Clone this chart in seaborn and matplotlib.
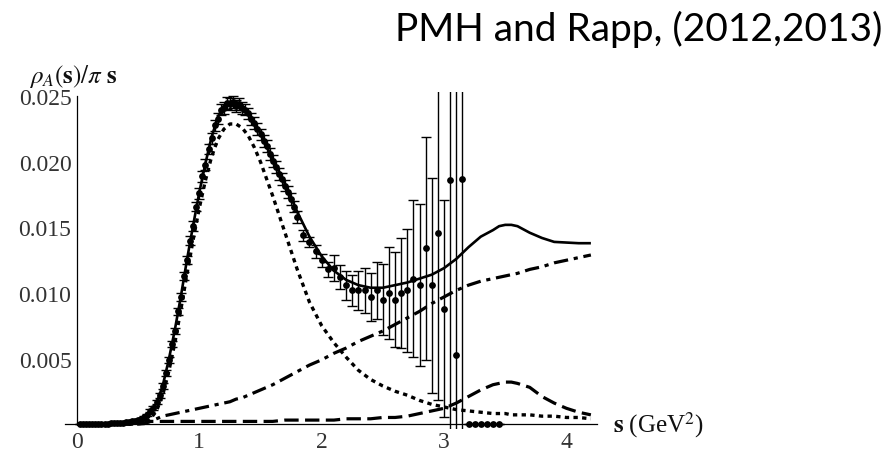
import numpy as np
import matplotlib
matplotlib.use("Agg")
import matplotlib.pyplot as plt
import seaborn as sns

# ---------------- data ----------------
model_s = [0.0, 0.1, 0.2, 0.3, 0.4, 0.5, 0.55, 0.6, 0.65, 0.7, 0.75, 0.8, 0.85, 0.9, 0.95,
           1.0, 1.05, 1.1, 1.15, 1.2, 1.25, 1.3, 1.35, 1.4, 1.45, 1.5, 1.55, 1.6, 1.7, 1.8,
           1.9, 2.0, 2.1, 2.2, 2.3, 2.4, 2.5, 2.6, 2.7, 2.8, 2.9, 3.0, 3.1, 3.2, 3.3, 3.4,
           3.45, 3.5, 3.55, 3.6, 3.7, 3.8, 3.9, 4.0, 4.1, 4.2]

total = [0.0, 0.00001, 0.00002, 0.00005, 0.00013, 0.0003, 0.0005, 0.0009, 0.0016, 0.0029,
         0.0049, 0.0072, 0.0098, 0.0126, 0.0152, 0.0177, 0.0199, 0.0219, 0.0234, 0.0243,
         0.0246, 0.0246, 0.0243, 0.0238, 0.0230, 0.0222, 0.0212, 0.0202, 0.0183, 0.0162,
         0.0143, 0.0128, 0.0117, 0.0110, 0.0106, 0.0104, 0.0104, 0.0106, 0.0108, 0.0111,
         0.0114, 0.0119, 0.0126, 0.0135, 0.0143, 0.0148, 0.0151, 0.0152, 0.0152, 0.0151,
         0.0146, 0.0142, 0.0139, 0.01385, 0.0138, 0.0138]

a1_ground = [0.0, 0.0, 0.0, 0.0, 0.0, 0.00003, 0.0001, 0.0004, 0.0010, 0.0022,
             0.0040, 0.0062, 0.0088, 0.0115, 0.0141, 0.0165, 0.0186, 0.0204, 0.0217, 0.0225,
             0.0229, 0.0229, 0.0226, 0.0220, 0.0211, 0.0200, 0.0187, 0.0174, 0.0146, 0.0118,
             0.0093, 0.0075, 0.0062, 0.0051, 0.0041, 0.0034, 0.0029, 0.0025, 0.0022, 0.0018,
             0.0015, 0.0013, 0.0011, 0.0010, 0.0009, 0.0008, 0.0008, 0.0008, 0.0007, 0.0007,
             0.0007, 0.0006, 0.0006, 0.0005, 0.0005, 0.0004]

continuum = [0.0, 0.0, 0.0, 0.0, 0.0, 0.0, 0.00003, 0.0002, 0.0004, 0.0006,
             0.0007, 0.0008, 0.0009, 0.0010, 0.0011, 0.0012, 0.0013, 0.0014, 0.0015, 0.0016,
             0.0017, 0.0019, 0.0020, 0.0022, 0.0024, 0.0026, 0.0028, 0.0030, 0.0035, 0.0040,
             0.0045, 0.0049, 0.0054, 0.0058, 0.0063, 0.0067, 0.0071, 0.0076, 0.0081, 0.0086,
             0.0092, 0.0097, 0.0102, 0.0106, 0.0109, 0.0111, 0.0112, 0.0113, 0.0114, 0.0115,
             0.0118, 0.0120, 0.0123, 0.0125, 0.0127, 0.0129]

a1_excited = [0.0, 0.0, 0.0, 0.0, 0.0, 0.0, 0.0001, 0.0002, 0.0002, 0.0002,
              0.0002, 0.0002, 0.0002, 0.0002, 0.0002, 0.0002, 0.0002, 0.0002, 0.0002, 0.0002,
              0.0002, 0.0002, 0.0002, 0.0002, 0.0002, 0.0002, 0.0002, 0.0002, 0.0003, 0.0003,
              0.0003, 0.0003, 0.0003, 0.0004, 0.0004, 0.0004, 0.0005, 0.0005, 0.0006, 0.0008,
              0.0010, 0.0012, 0.0016, 0.0021, 0.0026, 0.0030, 0.0031, 0.0032, 0.0032, 0.0031,
              0.0028, 0.0021, 0.0016, 0.0012, 0.0009, 0.0007]

data_s = [0.025, 0.05, 0.075, 0.1, 0.125, 0.15, 0.175, 0.2, 0.225, 0.25,
          0.275, 0.3, 0.325, 0.35, 0.375, 0.4, 0.425, 0.45, 0.475, 0.5,
          0.525, 0.55, 0.575, 0.6, 0.625, 0.65, 0.675, 0.7, 0.725, 0.75,
          0.775, 0.8, 0.825, 0.85, 0.875, 0.9, 0.925, 0.95, 0.975, 1.0,
          1.025, 1.05, 1.075, 1.1, 1.125, 1.15, 1.175, 1.2, 1.225, 1.25,
          1.275, 1.3, 1.325, 1.35, 1.375, 1.4, 1.425, 1.45, 1.475, 1.5,
          1.525, 1.55, 1.575, 1.6, 1.625, 1.65, 1.675, 1.7, 1.725, 1.75,
          1.775, 1.8, 1.85, 1.9, 1.95, 2.0, 2.05, 2.1, 2.15, 2.2,
          2.25, 2.3, 2.35, 2.4, 2.45, 2.5, 2.55, 2.6, 2.65, 2.7,
          2.75, 2.8, 2.85, 2.9, 2.95, 3.0, 3.05, 3.1, 3.15, 3.2,
          3.25, 3.3, 3.35, 3.4, 3.45]

data_v = [0.0, 0.0, 0.0, 0.0, 0.00001, 0.00001, 0.00001, 0.00002, 0.00002, 0.00003,
          0.00004, 0.00005, 0.00006, 0.00008, 0.0001, 0.00012, 0.00015, 0.0002, 0.00025, 0.0003,
          0.0004, 0.0005, 0.0007, 0.0010, 0.0012, 0.0017, 0.0022, 0.0029, 0.0039, 0.0049,
          0.0061, 0.0071, 0.0086, 0.0097, 0.0113, 0.0125, 0.0140, 0.0151, 0.0166, 0.0176,
          0.0189, 0.0198, 0.0210, 0.0218, 0.0228, 0.0233, 0.0240, 0.0241, 0.0245, 0.0244,
          0.0246, 0.0243, 0.0244, 0.0241, 0.0240, 0.0237, 0.0233, 0.0230, 0.0225, 0.0221,
          0.0216, 0.0212, 0.0206, 0.0201, 0.0196, 0.0191, 0.0187, 0.0182, 0.0177, 0.0172,
          0.0166, 0.0158, 0.0144, 0.0139, 0.0132, 0.0125, 0.0118, 0.0119, 0.0112, 0.0106,
          0.0102, 0.0102, 0.0102, 0.0097, 0.0102, 0.0095, 0.0100, 0.0095, 0.0100, 0.0102,
          0.0111, 0.0106, 0.0134, 0.0106, 0.0146, 0.0088, 0.0186, 0.0053, 0.0187, 0.0,
          0.0, 0.0, 0.0, 0.0, 0.0]

data_err = [0.00002, 0.00002, 0.00002, 0.00002, 0.00002, 0.00002, 0.00002, 0.00002, 0.00002, 0.00003,
            0.00003, 0.00003, 0.00003, 0.00004, 0.00004, 0.00005, 0.00005, 0.00006, 0.00006, 0.00007,
            0.00008, 0.0001, 0.0001, 0.00012, 0.00014, 0.00016, 0.00018, 0.0002, 0.0002, 0.00022,
            0.00024, 0.00026, 0.00028, 0.0003, 0.0003, 0.00032, 0.00034, 0.00036, 0.00038, 0.0004,
            0.0004, 0.0004, 0.0004, 0.00042, 0.00042, 0.00044, 0.00044, 0.00045, 0.00045, 0.00045,
            0.00045, 0.00045, 0.00045, 0.00045, 0.00045, 0.00045, 0.00045, 0.00045, 0.00045, 0.00045,
            0.00045, 0.00045, 0.00045, 0.00045, 0.00045, 0.00045, 0.00045, 0.00045, 0.00045, 0.00045,
            0.00045, 0.00045, 0.0004, 0.0004, 0.0005, 0.0005, 0.0006, 0.0010, 0.0009, 0.0011,
            0.0012, 0.0015, 0.0017, 0.0018, 0.0022, 0.0027, 0.0035, 0.0036, 0.0042, 0.0047,
            0.0060, 0.0062, 0.0085, 0.0082, 0.0128, 0.0083, 0.030, 0.030, 0.030, 0.0,
            0.0, 0.0, 0.0, 0.0, 0.0]

y_ticks = [0.005, 0.010, 0.015, 0.020, 0.025]
y_tick_labels = ["0.005", "0.010", "0.015", "0.020", "0.025"]
x_ticks = [0, 1, 2, 3, 4]
x_tick_labels = ["0", "1", "2", "3", "4"]
title_text = "PMH and Rapp, (2012,2013)"

# ---------------- figure ----------------
sns.set_style("white")
plt.rcParams["mathtext.fontset"] = "stix"

W, H = 893, 452
fig = plt.figure(figsize=(W / 100, H / 100), dpi=100)
ax = fig.add_axes([65 / W, 1 - 430 / H, 532 / W, (430 - 93) / H])
ax.set_facecolor("white")

# model curves
sns.lineplot(x=model_s, y=total, color="black", linewidth=1.9, ax=ax,
             estimator=None, sort=False, zorder=4)
sns.lineplot(x=model_s, y=a1_ground, color="black", linewidth=2.4, ax=ax,
             estimator=None, sort=False, zorder=3)
ax.lines[-1].set_dashes([1.3, 1.3])
sns.lineplot(x=model_s, y=continuum, color="black", linewidth=2.3, ax=ax,
             estimator=None, sort=False, zorder=3)
ax.lines[-1].set_dashes([4.5, 1.8, 1.3, 1.8])
sns.lineplot(x=model_s, y=a1_excited, color="black", linewidth=2.3, ax=ax,
             estimator=None, sort=False, zorder=3)
ax.lines[-1].set_dashes([4.5, 2.0])
for ln in ax.lines:
    ln.set_solid_capstyle("butt")
    ln.set_dash_capstyle("butt")
    ln.set_solid_joinstyle("round")

# data with error bars
ax.errorbar(data_s, data_v, yerr=data_err, fmt="none", ecolor="black",
            elinewidth=1.0, capsize=3.5, capthick=1.0, zorder=5)
sns.scatterplot(x=data_s, y=data_v, color="black", s=24, linewidth=0,
                ax=ax, zorder=6)

ax.set_xlim(-0.098, 4.25)
ax.set_ylim(-0.00038, 0.02534)

# axes in Mathematica style
for side in ["top", "right"]:
    ax.spines[side].set_visible(False)
ax.spines["left"].set_position(("data", 0))
ax.spines["bottom"].set_position(("data", 0))
ax.spines["left"].set_bounds(0, 0.025)
for side in ["left", "bottom"]:
    ax.spines[side].set_linewidth(0.9)
    ax.spines[side].set_color("black")

ax.set_yticks(y_ticks)
ax.set_yticklabels(y_tick_labels)
ax.set_yticks([v / 1000 for v in range(1, 25) if v % 5 != 0], minor=True)
ax.set_xticks(x_ticks)
ax.set_xticklabels(x_tick_labels)
ax.set_xticks([k / 5 for k in range(1, 22) if k % 5 != 0], minor=True)

ax.tick_params(axis="both", which="major", direction="in", length=5.5, width=0.8,
               color="black", labelsize=17, labelcolor="#333333")
ax.tick_params(axis="both", which="minor", direction="in", length=3.2, width=0.8,
               color="black")
ax.tick_params(axis="y", which="major", pad=4)
ax.tick_params(axis="x", which="major", pad=5)
for lab in ax.get_xticklabels() + ax.get_yticklabels():
    lab.set_fontfamily("Liberation Serif")
ax.set_xlabel("")
ax.set_ylabel("")

# axis titles
fig.text(29 / W, 1 - 76 / H, r"$\rho_A(\mathbf{s})/\pi\ \mathbf{s}$", fontsize=18,
         ha="left", va="center", color="#111111")
fig.text(613 / W, 1 - 425 / H, r"$\mathbf{s}$ (GeV$^2$)", fontsize=18,
         ha="left", va="center", color="#111111", family="Liberation Serif")

# title
fig.text(882 / W, 1 - 29 / H, title_text, fontsize=28, ha="right", va="center",
         family="Lato", color="black")

fig.savefig("out.png", dpi=100, facecolor="white")
